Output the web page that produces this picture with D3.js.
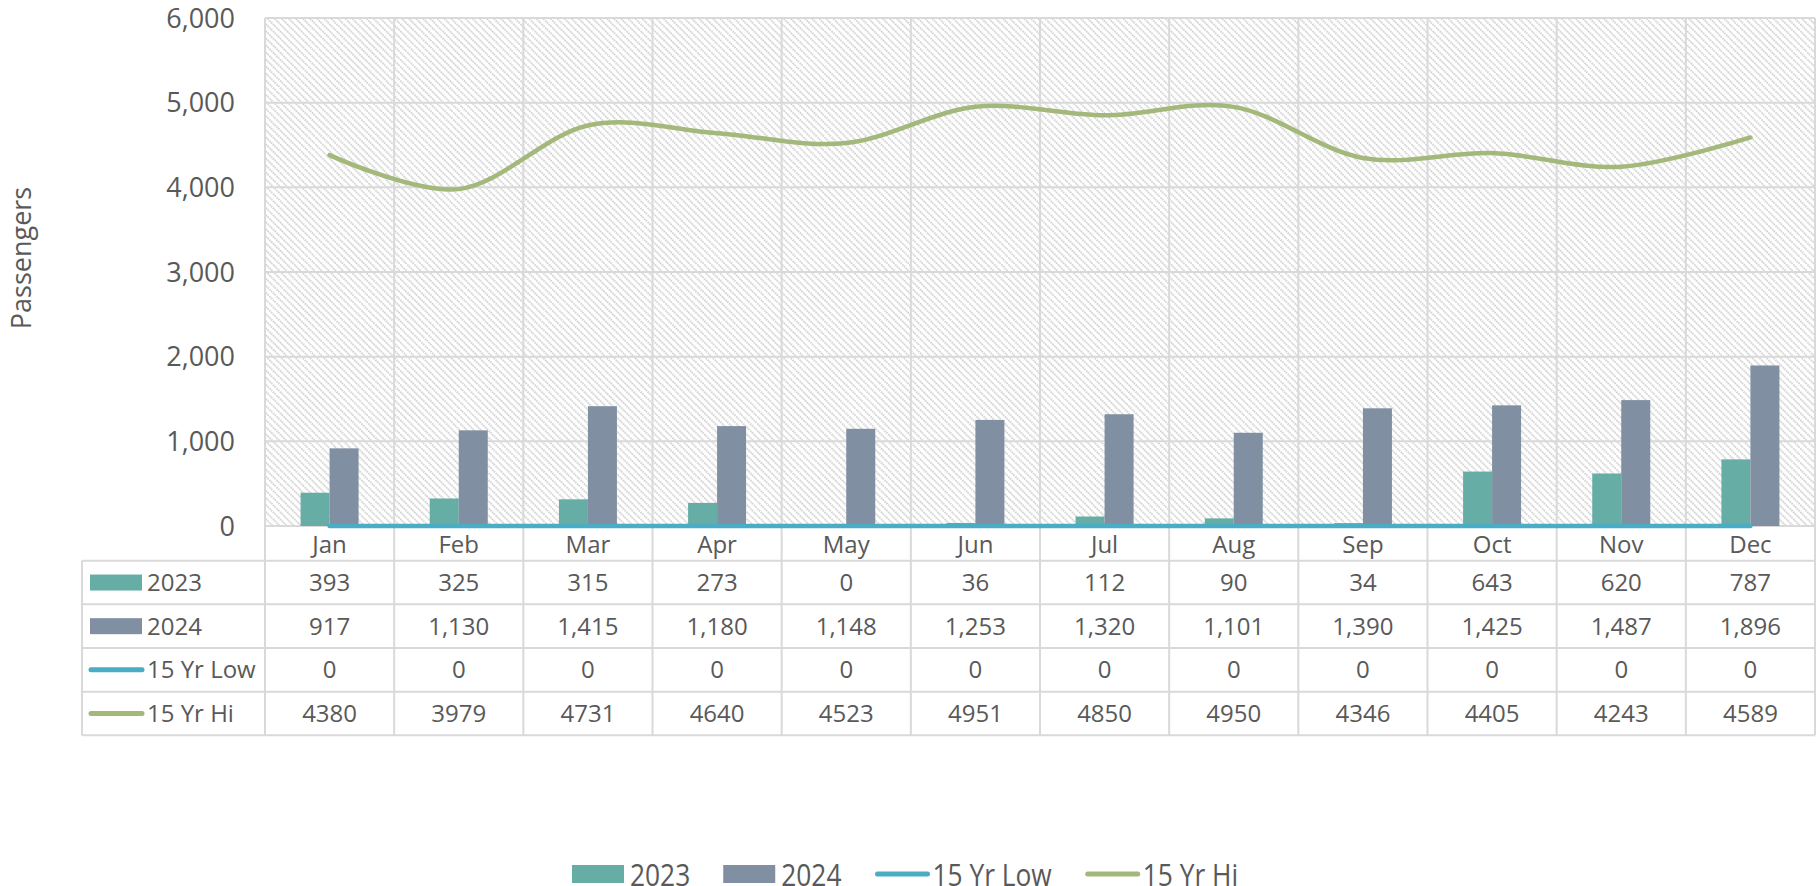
<!DOCTYPE html>
<meta charset="utf-8">
<style>
body {
  margin: 0;
  background: #ffffff;
  font-family: 'Open Sans', sans-serif;
}
svg {
  display: block;
}
text {
  fill: #595959;
}
.grid line {
  stroke: #d9d9d9;
  stroke-width: 2;
}
.cell line {
  stroke: #d9d9d9;
  stroke-width: 2;
}
</style>
<body>
<svg width="1819" height="886"></svg>
<script src="https://d3js.org/d3.v7.min.js"></script>
<script>

const months = ["Jan", "Feb", "Mar", "Apr", "May", "Jun", "Jul", "Aug", "Sep", "Oct", "Nov", "Dec"];
const y2023 = [393, 325, 315, 273, 0, 36, 112, 90, 34, 643, 620, 787];
const y2024 = [917, 1130, 1415, 1180, 1148, 1253, 1320, 1101, 1390, 1425, 1487, 1896];
const low15 = [0, 0, 0, 0, 0, 0, 0, 0, 0, 0, 0, 0];
const hi15 = [4380, 3979, 4731, 4640, 4523, 4951, 4850, 4950, 4346, 4405, 4243, 4589];
const yTicks = [0, 1000, 2000, 3000, 4000, 5000, 6000];

const series = [
  { name: "2023", type: "bar", color: "#66ada5", values: y2023, fmt: d3.format(",") },
  { name: "2024", type: "bar", color: "#808fa2", values: y2024, fmt: d3.format(",") },
  { name: "15 Yr Low", type: "line", color: "#4bacc6", values: low15, fmt: d3.format("d") },
  { name: "15 Yr Hi", type: "line", color: "#a3b87a", values: hi15, fmt: d3.format("d") }
];

const svg = d3.select("svg");

const plotL = 265, plotR = 1815, plotT = 18, plotB = 526;
const tableLeft = 82;
const labelRowH = 34.7;
const rowH = 43.65;

const x = d3.scaleBand().domain(months).range([plotL, plotR]).padding(0);
const bw = x.bandwidth();
const xs = d3.scaleBand().domain(["2023", "2024"]).range([-29, 29]).padding(0);
const y = d3.scaleLinear().domain([0, 6000]).range([plotB, plotT]);

// hatch fill for plot area
const defs = svg.append("defs");
const pat = defs.append("pattern")
  .attr("id", "hatch")
  .attr("patternUnits", "userSpaceOnUse")
  .attr("width", 5)
  .attr("height", 5)
  .attr("patternTransform", "rotate(-45)");
pat.append("rect").attr("width", 5).attr("height", 5).attr("fill", "#ffffff");
pat.append("line")
  .attr("x1", 1).attr("y1", 0).attr("x2", 1).attr("y2", 5)
  .attr("stroke", "#c4c4c4")
  .attr("stroke-width", 1.6)
  .attr("stroke-dasharray", "1.5 1");

svg.append("rect")
  .attr("x", plotL).attr("y", plotT)
  .attr("width", plotR - plotL).attr("height", plotB - plotT)
  .attr("fill", "url(#hatch)");

// gridlines
const grid = svg.append("g").attr("class", "grid");
grid.selectAll(".h")
  .data(yTicks)
  .join("line")
  .attr("x1", plotL).attr("x2", plotR)
  .attr("y1", d => y(d)).attr("y2", d => y(d));

const tableBottom = plotB + labelRowH + rowH * series.length;
const bounds = months.map(m => x(m)).concat([plotR]);
grid.selectAll(".v")
  .data(bounds)
  .join("line")
  .attr("x1", d => d).attr("x2", d => d)
  .attr("y1", plotT).attr("y2", tableBottom);

// y tick labels
svg.append("g")
  .selectAll("text")
  .data(yTicks)
  .join("text")
  .attr("x", plotL - 30)
  .attr("y", d => y(d))
  .attr("dy", "0.36em")
  .attr("text-anchor", "end")
  .attr("font-size", 27)
  .text(d3.format(","));

// y axis title
svg.append("text")
  .attr("transform", "translate(31,258) rotate(-90)")
  .attr("text-anchor", "middle")
  .attr("font-size", 27)
  .text("Passengers");

// bars
series.filter(s => s.type === "bar").forEach(s => {
  svg.append("g")
    .selectAll("rect")
    .data(s.values)
    .join("rect")
    .attr("x", (d, i) => x(months[i]) + bw / 2 + xs(s.name))
    .attr("y", d => y(d))
    .attr("width", xs.bandwidth())
    .attr("height", d => y(0) - y(d))
    .attr("fill", s.color);
});

// lines
series.filter(s => s.type === "line").forEach(s => {
  const line = d3.line()
    .x((d, i) => x(months[i]) + bw / 2)
    .y(d => y(d))
    .curve(d3.curveCardinal.tension(0));
  svg.append("path")
    .datum(s.values)
    .attr("d", line)
    .attr("fill", "none")
    .attr("stroke", s.color)
    .attr("stroke-width", 4.5)
    .attr("stroke-linecap", "round");
});

// month labels
svg.append("g")
  .selectAll("text")
  .data(months)
  .join("text")
  .attr("x", d => x(d) + bw / 2)
  .attr("y", plotB + labelRowH / 2 + 1)
  .attr("dy", "0.36em")
  .attr("text-anchor", "middle")
  .attr("font-size", 24)
  .text(d => d);

// data table
const table = svg.append("g").attr("class", "cell");
const rowTop = i => plotB + labelRowH + i * rowH;

table.selectAll(".hr")
  .data(d3.range(series.length + 1))
  .join("line")
  .attr("x1", tableLeft).attr("x2", plotR)
  .attr("y1", i => rowTop(i)).attr("y2", i => rowTop(i));
table.append("line")
  .attr("x1", tableLeft).attr("x2", tableLeft)
  .attr("y1", rowTop(0)).attr("y2", tableBottom);

series.forEach((s, si) => {
  const cy = rowTop(si) + rowH / 2;
  const g = svg.append("g");
  if (s.type === "bar") {
    g.append("rect")
      .attr("x", 90).attr("y", cy - 8)
      .attr("width", 52).attr("height", 16)
      .attr("fill", s.color);
  } else {
    g.append("line")
      .attr("x1", 91).attr("x2", 142)
      .attr("y1", cy).attr("y2", cy)
      .attr("stroke", s.color)
      .attr("stroke-width", 5)
      .attr("stroke-linecap", "round");
  }
  g.append("text")
    .attr("x", 147)
    .attr("y", cy)
    .attr("dy", "0.36em")
    .attr("font-size", 24)
    .text(s.name);
  g.selectAll(".val")
    .data(s.values)
    .join("text")
    .attr("x", (d, i) => x(months[i]) + bw / 2)
    .attr("y", cy)
    .attr("dy", "0.36em")
    .attr("text-anchor", "middle")
    .attr("font-size", 24)
    .text(d => s.fmt(d));
});

// bottom legend (runs into the bottom edge, as in the original)
const legend = svg.append("g");
let lx = 572;
const ly = 874;
const squeeze = 0.85;
series.forEach(s => {
  if (s.type === "bar") {
    legend.append("rect")
      .attr("x", lx).attr("y", ly - 9)
      .attr("width", 52).attr("height", 18)
      .attr("fill", s.color);
  } else {
    legend.append("line")
      .attr("x1", lx + 3).attr("x2", lx + 53)
      .attr("y1", ly).attr("y2", ly)
      .attr("stroke", s.color)
      .attr("stroke-width", 5)
      .attr("stroke-linecap", "round");
  }
  lx += 58;
  const t = legend.append("text")
    .attr("transform", `translate(${lx},885.5) scale(${squeeze},1)`)
    .attr("font-size", 31)
    .text(s.name);
  lx += t.node().getComputedTextLength() * squeeze + 33;
});

</script>
</body>
